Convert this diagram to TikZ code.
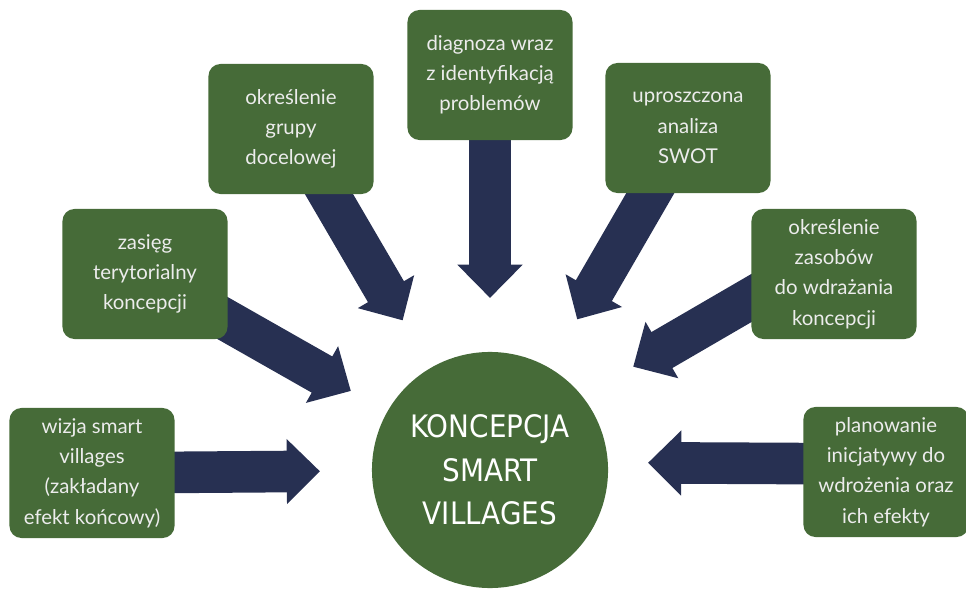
\documentclass[tikz,border=0pt]{standalone}
\usepackage{fontspec}
\setmainfont{Lato}
\newfontfamily\kcfont{DejaVu Sans Condensed}
\usetikzlibrary{arrows.meta,backgrounds}
\definecolor{kgreen}{RGB}{70,107,56}
\definecolor{knavy}{RGB}{39,48,82}
\definecolor{ktext}{RGB}{236,236,236}

\begin{document}
\begin{tikzpicture}[x=0.025cm,y=-0.025cm]
   \tikzstyle{box}=[fill=kgreen, rounded corners=0.3cm, minimum width=4.125cm, minimum height=3.25cm, inner sep=0pt, align=center, text=ktext, font=\fontsize{14.5}{21.5}\selectfont]
   \tikzstyle{bigarrow}=[draw=knavy, line width=1.04cm, -{Triangle[length=0.83cm, width=1.58cm]}]

\useasboundingbox (0,0) rectangle (966,589);

\node[circle, fill=kgreen, minimum size=5.9cm, inner sep=0pt, align=center, text=white, font=\kcfont\fontsize{22}{31}\selectfont] (kc) at (490,470) {KONCEPCJA\\SMART\\VILLAGES};

\node[box] (b1) at (92,473) {wizja smart\\villages\\(zakładany\\efekt końcowy)};
\node[box] (b2) at (145,274) {zasięg\\terytorialny\\koncepcji};
\node[box] (b3) at (291,129) {określenie\\grupy\\docelowej};
\node[box] (b4) at (490,75) {diagnoza wraz\\z identyfikacją\\problemów};
\node[box] (b5) at (688,128) {uproszczona\\analiza\\SWOT};
\node[box] (b6) at (834,274) {określenie\\zasobów\\do wdrażania\\koncepcji};
\node[box] (b7) at (886,472) {planowanie\\inicjatywy do\\wdrożenia oraz\\ich efekty};

% arrows go under the boxes
\begin{pgfonlayer}{background}
\draw[bigarrow, shorten >=4.25cm] (b1.center) -- (kc.center);
\draw[bigarrow, shorten >=4.0cm] (b2.center) -- (kc.center);
\draw[bigarrow, shorten >=4.33cm] (b3.center) -- (kc.center);
\draw[bigarrow, shorten >=4.3cm] (b4.center) -- (kc.center);
\draw[bigarrow, shorten >=4.35cm] (b5.center) -- (kc.center);
\draw[bigarrow, shorten >=4.14cm] ([yshift=0.6cm]b6.center) -- ([yshift=0.5cm]kc.center);
\draw[bigarrow, shorten >=3.95cm] ([yshift=0.2cm]b7.center) -- ([yshift=0.2cm]kc.center);
\end{pgfonlayer}

\end{tikzpicture}
\end{document}
